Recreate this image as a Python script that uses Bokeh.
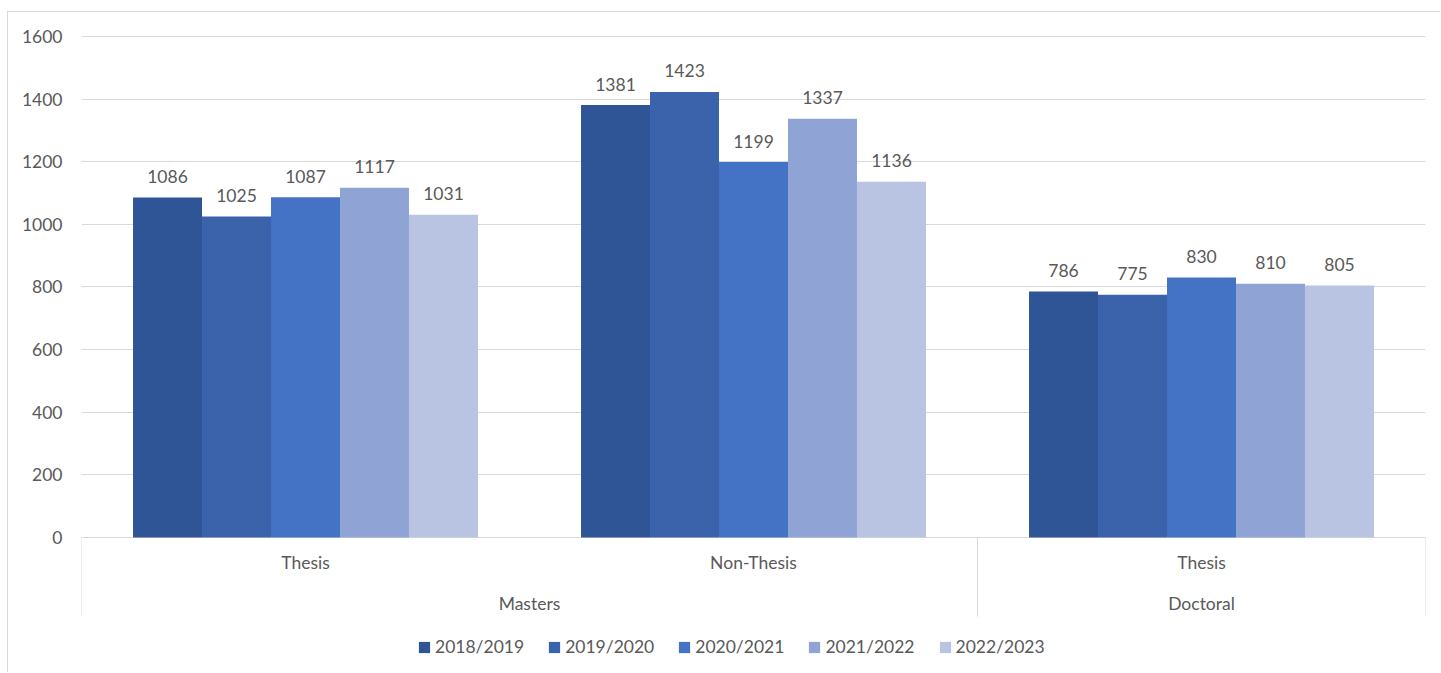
from bokeh.plotting import figure
from bokeh.models import FactorRange, Range1d, FixedTicker, ColumnDataSource, Legend, LegendItem
from bokeh.transform import dodge
from bokeh.core.properties import value
from bokeh.embed import file_html
from bokeh.resources import INLINE

# ---- data ----
groups = ["Masters", "Masters", "Doctoral"]
subgroups = ["Thesis", "Non-Thesis", "Thesis"]
years = ["2018/2019", "2019/2020", "2020/2021", "2021/2022", "2022/2023"]
v_2018_2019 = [1086, 1381, 786]
v_2019_2020 = [1025, 1423, 775]
v_2020_2021 = [1087, 1199, 830]
v_2021_2022 = [1117, 1337, 810]
v_2022_2023 = [1031, 1136, 805]
y_ticks = [0, 200, 400, 600, 800, 1000, 1200, 1400, 1600]

series = [v_2018_2019, v_2019_2020, v_2020_2021, v_2021_2022, v_2022_2023]
colors = ["#2F5597", "#3A63AC", "#4472C4", "#8FA3D5", "#B9C3E2"]

FONT = "Lato"
FS = "17.5px"
TXT = "#595959"
GRID = "#D9D9D9"

factors = list(zip(groups, subgroups))

p = figure(width=1433, height=661,
           x_range=FactorRange(*factors, factor_padding=0, group_padding=0,
                               subgroup_padding=0, range_padding=0),
           y_range=Range1d(-434.33, 1619.16),
           x_axis_location=None,
           output_backend="svg", toolbar_location=None,
           min_border_left=73, min_border_right=16, min_border_top=18,
           min_border_bottom=0,
           margin=(11, 0, 0, 7),
           styles={"border-top": "1px solid #D9D9D9", "border-left": "1px solid #D9D9D9"})

p.outline_line_color = None
p.background_fill_color = "white"
p.xgrid.grid_line_color = None

p.yaxis.ticker = FixedTicker(ticks=y_ticks)
p.yaxis.axis_line_color = None
p.yaxis.major_tick_line_color = None
p.yaxis.minor_tick_line_color = None
p.yaxis.major_tick_out = 0
p.yaxis.major_tick_in = 0
p.yaxis.major_label_standoff = 19
p.yaxis.major_label_text_font = FONT
p.yaxis.major_label_text_font_size = FS
p.yaxis.major_label_text_color = TXT
p.ygrid.grid_line_color = GRID
p.ygrid.grid_line_width = 1

# separators of the category axis (group boundaries)
bounds = [0]
for i in range(1, len(groups)):
    if groups[i] != groups[i - 1]:
        bounds.append(i)
bounds.append(len(groups))
sep_bottom = -252.3
p.segment(x0=bounds, y0=[0] * len(bounds), x1=bounds, y1=[sep_bottom] * len(bounds),
          line_color=GRID, line_width=1)

w = 0.154
items = []
for j, (yr, vals, c) in enumerate(zip(years, series, colors)):
    src = ColumnDataSource(dict(x=factors, top=vals, label=[str(v) for v in vals]))
    off = (j - 2) * w
    r = p.vbar(x=dodge("x", off, range=p.x_range), top="top", bottom=0, width=w,
               source=src, fill_color=c, line_color=None)
    p.text(x=dodge("x", off, range=p.x_range), y="top", text="label", source=src,
           text_align="center", text_baseline="alphabetic", y_offset=-21,
           text_font=value(FONT), text_font_size=FS, text_color=TXT)
    items.append(LegendItem(label=yr, renderers=[r]))

# category labels
sub_src = ColumnDataSource(dict(x=factors, label=subgroups))
p.text(x="x", y=-80, text="label", source=sub_src, text_align="center",
       text_baseline="alphabetic", text_font=value(FONT), text_font_size=FS, text_color=TXT)
ug = []
for g in groups:
    if g not in ug:
        ug.append(g)
grp_src = ColumnDataSource(dict(x=ug, label=ug))
p.text(x="x", y=-211.7, text="label", source=grp_src, text_align="center",
       text_baseline="alphabetic", text_font=value(FONT), text_font_size=FS, text_color=TXT)

legend = Legend(items=items, location=(336, 16), orientation="horizontal",
                glyph_width=14, glyph_height=14, label_standoff=4, spacing=23,
                padding=0, margin=0, border_line_color=None, background_fill_alpha=0,
                label_text_font=FONT, label_text_font_size=FS, label_text_color=TXT,
                label_height=20)
p.add_layout(legend)

open("out.html", "w").write(file_html(p, INLINE))
